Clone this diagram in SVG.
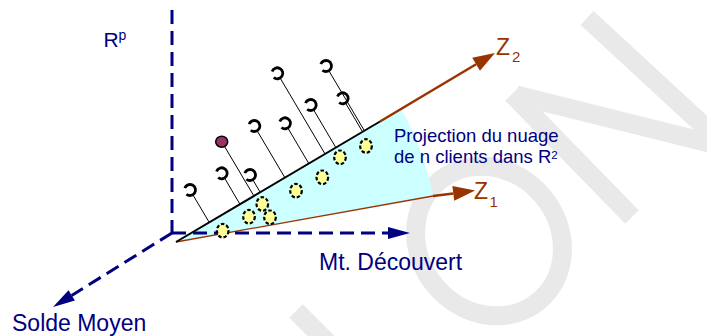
<svg xmlns="http://www.w3.org/2000/svg" xmlns:xlink="http://www.w3.org/1999/xlink" width="707" height="336" viewBox="0 0 707 336">
  <style>
    .axis { fill: none; stroke: #000080; stroke-width: 3; stroke-dasharray: 14 7; }
    .zax { fill: none; stroke: #993300; stroke-width: 2.5; }
    .proj { stroke: #000; stroke-width: 1; }
    .ring { fill: none; stroke: #000; stroke-width: 2.8; }
    .obs { fill: #ffff99; stroke: #000; stroke-width: 2.2; stroke-dasharray: 3.5 2; }
    .lbl { font-family: "Liberation Sans", Arial, sans-serif; fill: #000080; }
    .zl { font-family: "Liberation Sans", Arial, sans-serif; fill: #993300; }
    .wm { fill: none; stroke: #e9e9e9; stroke-width: 19; }
  </style>
  <defs>
    <marker id="ahBlue" markerUnits="userSpaceOnUse" markerWidth="22" markerHeight="12" refX="0" refY="6" orient="auto" overflow="visible">
      <path d="M0,0 L22,6 L0,12 z" fill="#000080"/>
    </marker>
    <marker id="ahBrown" markerUnits="userSpaceOnUse" markerWidth="22" markerHeight="15" refX="0" refY="7.5" orient="auto" overflow="visible">
      <path d="M0,0 L22,7.5 L0,15 z" fill="#993300"/>
    </marker>
    <!-- open observation mark: ring with a gap on the left -->
    <path id="ring" class="ring" d="M-5.17,-1.88 A5.5,5.5 0 1 1 -3.54,4.21"/>
  </defs>

  <rect width="707" height="336" fill="#fff"/>

  <!-- faint background lettering -->
  <g id="watermark" class="wm">
    <line x1="296" y1="311" x2="342" y2="357"/>
    <ellipse cx="489" cy="241" rx="70" ry="78" transform="rotate(-40 489 241)"/>
    <line x1="512" y1="94" x2="632" y2="217"/>
    <line x1="516" y1="95" x2="725" y2="147"/>
    <line x1="587" y1="18" x2="730" y2="150"/>
  </g>

  <!-- projection plane spanned by Z1 and Z2 -->
  <g id="plane">
    <path d="M176,242 L401,108.5 Q424,150 433,196 Z" fill="#ccffff"/>
    <line x1="176" y1="242" x2="433" y2="196" stroke="#993300" stroke-width="1.3"/>
  </g>

  <g id="connectors">
    <!-- factorial axes -->
    <path class="zax" d="M380,121.5 L476.1,64.2" marker-end="url(#ahBrown)"/>
    <line x1="176" y1="242" x2="380" y2="121.5" stroke="#000" stroke-width="2"/>
    <path class="zax" d="M433,196 L453.3,193.4" marker-end="url(#ahBrown)"/>
    <!-- original space axes -->
    <path class="axis" d="M172,10 V233"/>
    <path class="axis" d="M172,233 H388" marker-end="url(#ahBlue)"/>
    <path class="axis" d="M172,233 L71.7,295.4" marker-end="url(#ahBlue)"/>
    <!-- orthogonal projections onto the plane -->
    <line class="proj" x1="193" y1="195" x2="209.2" y2="222.3"/>
    <line class="proj" x1="224.7" y1="178.3" x2="239.9" y2="204.1"/>
    <line class="proj" x1="253" y1="180" x2="260.1" y2="192.1"/>
    <line class="proj" x1="257.3" y1="131" x2="284.8" y2="177.5"/>
    <line class="proj" x1="288" y1="128.3" x2="308.7" y2="163.3"/>
    <line class="proj" x1="280.3" y1="78.3" x2="324.9" y2="153.7"/>
    <line class="proj" x1="313.7" y1="110" x2="335.7" y2="147.3"/>
    <line class="proj" x1="329" y1="71" x2="364.2" y2="130.4"/>
    <line class="proj" x1="345.7" y1="103.3" x2="362.4" y2="131.5"/>
    <line class="proj" x1="224.7" y1="146.7" x2="253.8" y2="195.8"/>
  </g>

  <!-- clients in R^p -->
  <g id="p1"><use xlink:href="#ring" href="#ring" x="190" y="190"/></g>
  <g id="p2"><use xlink:href="#ring" href="#ring" x="221.7" y="173.3"/></g>
  <g id="p3"><use xlink:href="#ring" href="#ring" x="250" y="175"/></g>
  <g id="p4"><use xlink:href="#ring" href="#ring" x="254.3" y="126"/></g>
  <g id="p5"><use xlink:href="#ring" href="#ring" x="285" y="123.3"/></g>
  <g id="p6"><use xlink:href="#ring" href="#ring" x="277.3" y="73.3"/></g>
  <g id="p7"><use xlink:href="#ring" href="#ring" x="310.7" y="105"/></g>
  <g id="p8"><use xlink:href="#ring" href="#ring" x="326" y="66"/></g>
  <g id="p9"><use xlink:href="#ring" href="#ring" x="342.7" y="98.3"/></g>
  <g id="p10"><ellipse cx="221.7" cy="141.7" rx="6" ry="5.5" fill="#993366" stroke="#000" stroke-width="1.5"/></g>

  <!-- projected clients in the plane -->
  <g id="q1"><ellipse class="obs" cx="222.7" cy="230.7" rx="5.8" ry="6.8"/></g>
  <g id="q2"><ellipse class="obs" cx="249" cy="216.7" rx="5.8" ry="6.8"/></g>
  <g id="q3"><ellipse class="obs" cx="262.3" cy="204" rx="5.8" ry="6.8"/></g>
  <g id="q4"><ellipse class="obs" cx="270" cy="217.3" rx="5.8" ry="6.8"/></g>
  <g id="q5"><ellipse class="obs" cx="296" cy="190.7" rx="5.8" ry="6.8"/></g>
  <g id="q6"><ellipse class="obs" cx="322.3" cy="177.3" rx="5.8" ry="6.8"/></g>
  <g id="q7"><ellipse class="obs" cx="340" cy="157.3" rx="5.8" ry="6.8"/></g>
  <g id="q8"><ellipse class="obs" cx="366" cy="146" rx="5.8" ry="6.8"/></g>

  <!-- labels -->
  <g id="label-rp"><text class="lbl" x="103.5" y="47" font-size="21">R<tspan x="118.5" y="39.5" font-size="14">p</tspan></text></g>
  <g id="label-z2"><text class="zl" x="496" y="55" font-size="23">Z<tspan x="512" y="62" font-size="15">2</tspan></text></g>
  <g id="label-z1"><text class="zl" x="474" y="199" font-size="23">Z<tspan x="489.5" y="207" font-size="15">1</tspan></text></g>
  <g id="label-plane">
    <text class="lbl" x="394" y="141.5" font-size="18.5">Projection du nuage</text>
    <text class="lbl" x="394" y="163" font-size="18.5">de n clients dans R<tspan y="158.5" font-size="11.5">2</tspan></text>
  </g>
  <g id="label-mt"><text class="lbl" x="319" y="270" font-size="23">Mt. Découvert</text></g>
  <g id="label-solde"><text class="lbl" x="12" y="331" font-size="23">Solde Moyen</text></g>
</svg>
